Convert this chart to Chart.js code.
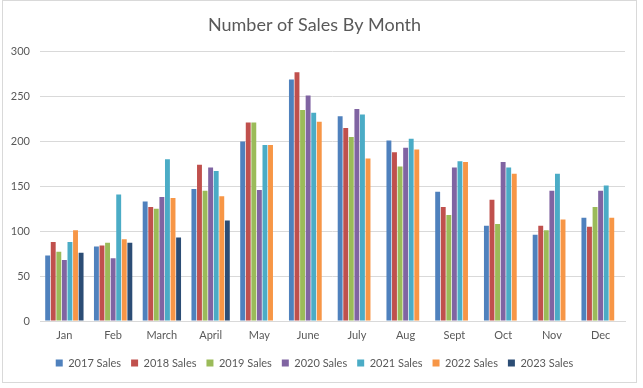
<!DOCTYPE html>
<html>
<head>
<meta charset="utf-8">
<script src="https://cdn.jsdelivr.net/npm/chart.js@4.4.1/dist/chart.umd.min.js"></script>
<style>
  html, body { margin: 0; padding: 0; background: #fff; }
  #wrap { position: relative; width: 643px; height: 388px; }
  #frame { position: absolute; left: 2px; top: 0; width: 635px; height: 383px; border: 1px solid #d9d9d9; box-sizing: border-box; pointer-events: none; }
  canvas { position: absolute; left: 0; top: 0; }
</style>
</head>
<body>
<div id="wrap">
  <canvas id="salesChart" width="643" height="388"></canvas>
  <div id="frame"></div>
</div>
<script>
// Dane
const months = ['Jan', 'Feb', 'March', 'April', 'May', 'June', 'July', 'Aug', 'Sept', 'Oct', 'Nov', 'Dec'];

const sales2017 = [73, 83, 133, 147, 200, 269, 228, 201, 144, 106, 96, 115];
const sales2018 = [88, 84, 127, 174, 221, 277, 215, 188, 127, 135, 106, 105];
const sales2019 = [77, 87, 125, 145, 221, 235, 205, 172, 118, 108, 101, 127];
const sales2020 = [68, 70, 138, 171, 146, 251, 236, 193, 171, 177, 145, 145];
const sales2021 = [88, 141, 180, 167, 196, 232, 230, 203, 178, 171, 164, 151];
const sales2022 = [101, 91, 137, 139, 196, 222, 181, 191, 177, 164, 113, 115];
const sales2023 = [76, 87, 93, 112, null, null, null, null, null, null, null, null];

const yTicks = [0, 50, 100, 150, 200, 250, 300];

const textColor = '#595959';
const gridColor = '#d9d9d9';

function series(label, data, color) {
    return {
        label: label,
        data: data,
        backgroundColor: color,
        borderWidth: 0,
        categoryPercentage: 0.8,
        barPercentage: 0.88
    };
}

const ctx = document.getElementById('salesChart').getContext('2d');

new Chart(ctx, {
    type: 'bar',
    data: {
        labels: months,
        datasets: [
            series('2017 Sales', sales2017, '#4F81BD'),
            series('2018 Sales', sales2018, '#C0504D'),
            series('2019 Sales', sales2019, '#9BBB59'),
            series('2020 Sales', sales2020, '#8064A2'),
            series('2021 Sales', sales2021, '#4BACC6'),
            series('2022 Sales', sales2022, '#F79646'),
            series('2023 Sales', sales2023, '#2C4D75')
        ]
    },
    options: {
        responsive: false,
        animation: false,
        layout: {
            padding: { left: 4, right: 18, top: 0, bottom: 9.5 }
        },
        plugins: {
            title: {
                display: true,
                text: 'Number of Sales By Month',
                color: textColor,
                font: { family: 'Lato', size: 18, weight: 'normal' },
                padding: { top: 14, bottom: 16 }
            },
            legend: {
                position: 'bottom',
                labels: {
                    color: textColor,
                    font: { family: 'Lato', size: 11 },
                    boxWidth: 7,
                    boxHeight: 7,
                    padding: 10
                }
            },
            tooltip: { enabled: false }
        },
        scales: {
            x: {
                afterFit: function(scale) {
                    scale.height = 26.5;
                },
                grid: { display: false, drawTicks: false },
                border: { display: true, color: gridColor },
                ticks: {
                    color: textColor,
                    font: { family: 'Lato', size: 11 },
                    padding: 8,
                    maxRotation: 0
                }
            },
            y: {
                min: 0,
                max: 300,
                afterBuildTicks: function(scale) {
                    scale.ticks = yTicks.map(v => ({ value: v }));
                },
                afterFit: function(scale) {
                    scale.width = 36;
                },
                grid: { color: gridColor, drawTicks: false },
                border: { display: false },
                ticks: {
                    color: textColor,
                    font: { family: 'Lato', size: 11 },
                    padding: 10
                }
            }
        }
    }
});
</script>
</body>
</html>
